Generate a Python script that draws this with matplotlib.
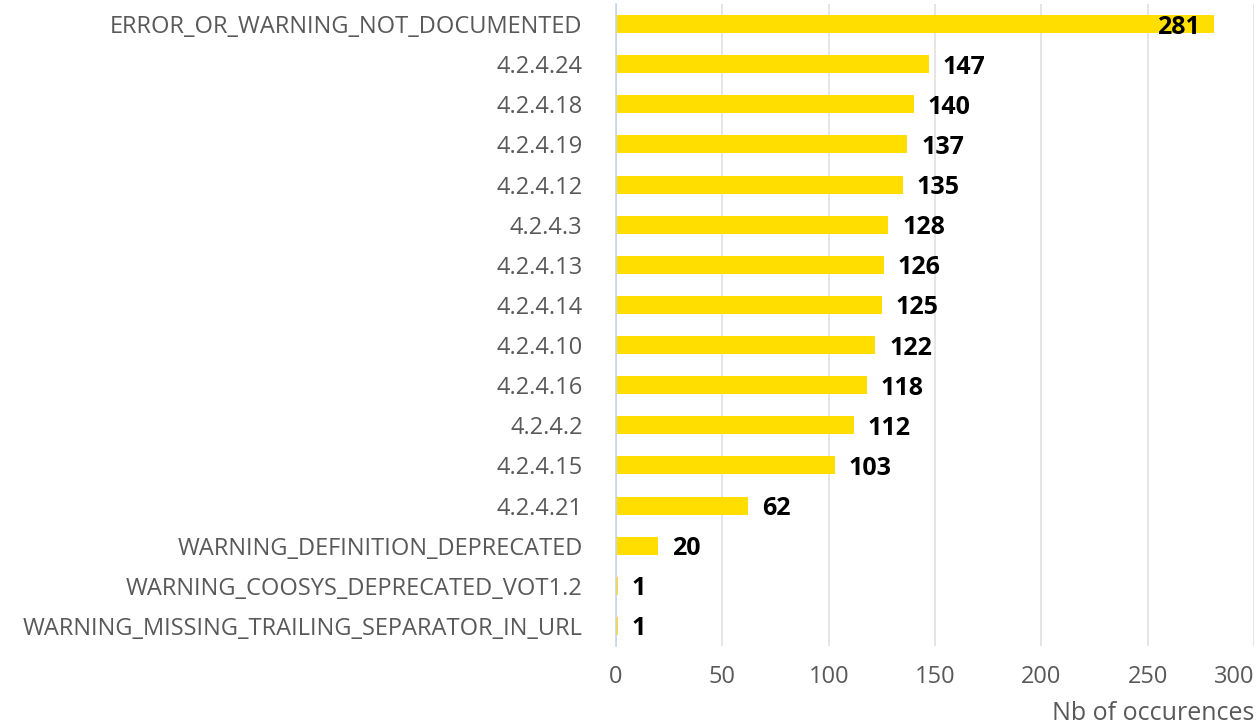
import matplotlib.pyplot as plt

# Data
categories = [
    "ERROR_OR_WARNING_NOT_DOCUMENTED",
    "4.2.4.24",
    "4.2.4.18",
    "4.2.4.19",
    "4.2.4.12",
    "4.2.4.3",
    "4.2.4.13",
    "4.2.4.14",
    "4.2.4.10",
    "4.2.4.16",
    "4.2.4.2",
    "4.2.4.15",
    "4.2.4.21",
    "WARNING_DEFINITION_DEPRECATED",
    "WARNING_COOSYS_DEPRECATED_VOT1.2",
    "WARNING_MISSING_TRAILING_SEPARATOR_IN_URL",
]
counts = [281, 147, 140, 137, 135, 128, 126, 125, 122, 118, 112, 103, 62, 20, 1, 1]
xticks = [0, 50, 100, 150, 200, 250, 300]

plt.rcParams["font.family"] = ["Open Sans", "DejaVu Sans"]

fig = plt.figure(figsize=(12.56, 7.28), dpi=100)
ax = fig.add_axes([0.4904, 0.1126, 0.508, 0.8819])

ypos = list(range(len(categories)))
ax.barh(ypos, counts, height=0.45, color="#FFDE00", zorder=2)

ax.set_xlim(0, 300)
ax.set_ylim(len(categories) - 0.5, -0.5)
ax.set_yticks(ypos)
ax.set_yticklabels(categories)
ax.set_xticks(xticks)

# value labels (the longest one sits inside the bar end)
for y, v in zip(ypos, counts):
    if v + 20 > 300:
        ax.text(v - 6.5, y, str(v), ha="right", va="center_baseline", fontsize=18,
                fontweight="bold", color="black", zorder=3)
    else:
        ax.text(v + 6.5, y, str(v), ha="left", va="center_baseline", fontsize=18,
                fontweight="bold", color="black", zorder=3)

ax.grid(axis="x", color="#E0E0E0", linewidth=1.2, zorder=0)
for s in ["top", "right", "bottom"]:
    ax.spines[s].set_visible(False)
ax.spines["left"].set_color("#C8D4E8")
ax.spines["left"].set_linewidth(1.2)

ax.tick_params(axis="y", length=0, pad=24, labelsize=17, labelcolor="#595959")
ax.tick_params(axis="x", length=0, pad=14, labelsize=17, labelcolor="#595959")
ax.get_xticklabels()[-1].set_horizontalalignment("right")

ax.set_xlabel("Nb of occurences", fontsize=18, color="#595959", loc="right", labelpad=8)

fig.savefig("out.png", dpi=100)
